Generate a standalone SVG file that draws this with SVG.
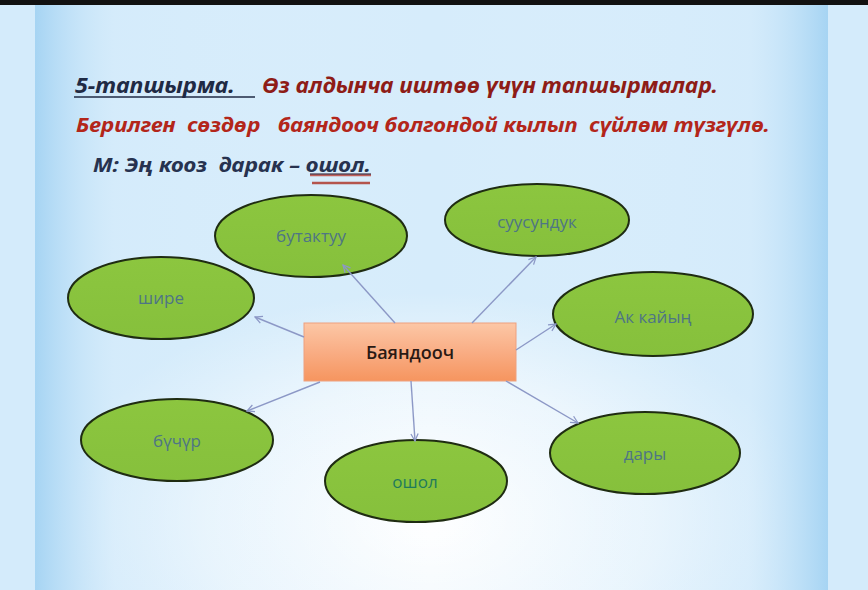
<svg xmlns="http://www.w3.org/2000/svg" width="868" height="590" viewBox="0 0 868 590">
<defs>
<style>
.ell{fill:url(#gr);stroke:#1f2c12;stroke-width:2}
.lbl{font-family:"Open Sans","Noto Sans","DejaVu Sans",sans-serif;font-size:17px;fill:#4e7585;text-anchor:middle}
.con{stroke:#8c98c6;stroke-width:1.4;fill:none;marker-end:url(#ah)}
.t{font-family:"Noto Sans","Open Sans","DejaVu Sans",sans-serif;font-weight:bold;font-style:italic}
</style>
<linearGradient id="gr" x1="0" y1="0" x2="0" y2="1">
<stop offset="0" stop-color="#8cc63f"/><stop offset="1" stop-color="#86c03c"/>
</linearGradient>
<linearGradient id="og" x1="0" y1="0" x2="0" y2="1">
<stop offset="0" stop-color="#fcc7a6"/><stop offset="0.5" stop-color="#f9ad84"/><stop offset="1" stop-color="#f6955f"/>
</linearGradient>
<linearGradient id="side" x1="0" y1="0" x2="1" y2="0">
<stop offset="0" stop-color="#a6d4f3"/><stop offset="0.1" stop-color="#d2eafb" stop-opacity="0.4"/><stop offset="0.5" stop-color="#e4f3fd" stop-opacity="0"/><stop offset="0.9" stop-color="#d2eafb" stop-opacity="0.4"/><stop offset="1" stop-color="#a6d4f3"/>
</linearGradient>
<radialGradient id="glow" cx="430" cy="520" r="380" gradientUnits="userSpaceOnUse" gradientTransform="translate(430 520) scale(1 0.6) translate(-430 -520)">
<stop offset="0" stop-color="#ffffff"/><stop offset="0.6" stop-color="#ffffff" stop-opacity="0.6"/><stop offset="1" stop-color="#ffffff" stop-opacity="0"/>
</radialGradient>
<marker id="ah" viewBox="0 0 10 10" refX="9" refY="5" markerWidth="9" markerHeight="9" markerUnits="userSpaceOnUse" orient="auto">
<path d="M1,1 L9,5 L1,9" fill="none" stroke="#8c98c6" stroke-width="1.4"/>
</marker>
</defs>
<rect x="0" y="0" width="868" height="590" fill="#d4ebfb"/>
<rect x="35" y="5" width="793" height="585" fill="#d6ecfb"/>
<rect x="35" y="5" width="793" height="585" fill="url(#glow)"/>
<rect x="35" y="5" width="793" height="585" fill="url(#side)"/>
<rect x="0" y="0" width="868" height="5" fill="#111"/>

<g id="title">
<text class="t" x="75" y="93" font-size="21" fill="#1f2a44" textLength="160" lengthAdjust="spacingAndGlyphs">5-тапшырма.</text>
<line x1="74" y1="97" x2="255" y2="97" stroke="#1f2a44" stroke-width="1.6"/>
<text class="t" x="262" y="93" font-size="21" fill="#8e1c17" textLength="456" lengthAdjust="spacingAndGlyphs">Өз алдынча иштөө үчүн тапшырмалар.</text>
<text class="t" x="76" y="132" font-size="19" fill="#b3261a" xml:space="preserve" textLength="694" lengthAdjust="spacingAndGlyphs">Берилген  сөздөр   баяндооч болгондой кылып  сүйлөм түзгүлө.</text>
<text class="t" x="93" y="172" font-size="20" fill="#27324f" xml:space="preserve" textLength="278" lengthAdjust="spacingAndGlyphs">М: Эң кооз  дарак – ошол.</text>
<line x1="310" y1="175" x2="371" y2="175" stroke="#c2605a" stroke-width="2.5"/>
<line x1="310" y1="174" x2="371" y2="174" stroke="#27324f" stroke-width="1"/>
<line x1="312" y1="183" x2="370" y2="183" stroke="#b4544c" stroke-width="2.5"/>
</g>

<g id="center">
<rect x="304" y="323" width="212" height="58" fill="url(#og)" stroke="#eea07e" stroke-width="1"/>
<text x="410" y="359" font-family="Open Sans,Noto Sans,DejaVu Sans,sans-serif" font-size="18" font-weight="600" fill="#2a1a14" text-anchor="middle">Баяндооч</text>
</g>

<g id="n-butaktuu">
<ellipse class="ell" cx="311" cy="236" rx="96" ry="41"/>
<text class="lbl" x="311" y="242">бутактуу</text>
</g>
<g id="n-suusunduk">
<ellipse class="ell" cx="537" cy="220" rx="92" ry="36"/>
<text class="lbl" x="537" y="228">суусундук</text>
</g>
<g id="n-shire">
<ellipse class="ell" cx="161" cy="298" rx="93" ry="41"/>
<text class="lbl" x="161" y="304">шире</text>
</g>
<g id="n-buchur">
<ellipse class="ell" cx="177" cy="440" rx="96" ry="41"/>
<text class="lbl" x="177" y="447">бүчүр</text>
</g>
<g id="n-ak-kaiyn">
<ellipse class="ell" cx="653" cy="314" rx="100" ry="42"/>
<text class="lbl" x="653" y="323">Ак кайың</text>
</g>
<g id="n-dary">
<ellipse class="ell" cx="645" cy="453" rx="95" ry="41"/>
<text class="lbl" x="645" y="460">дары</text>
</g>
<g id="n-oshol">
<ellipse class="ell" cx="416" cy="481" rx="91" ry="41"/>
<text class="lbl" x="415" y="488" style="fill:#1f7a5c">ошол</text>
</g>

<g id="connectors">
<line class="con" x1="395" y1="323" x2="343" y2="265"/>
<line class="con" x1="472" y1="323" x2="536" y2="257"/>
<line class="con" x1="304" y1="337" x2="255" y2="317"/>
<line class="con" x1="320" y1="382" x2="247" y2="411"/>
<line class="con" x1="516" y1="350" x2="556" y2="324"/>
<line class="con" x1="411" y1="381" x2="415" y2="441"/>
<line class="con" x1="506" y1="381" x2="578" y2="423"/>
</g>
</svg>
